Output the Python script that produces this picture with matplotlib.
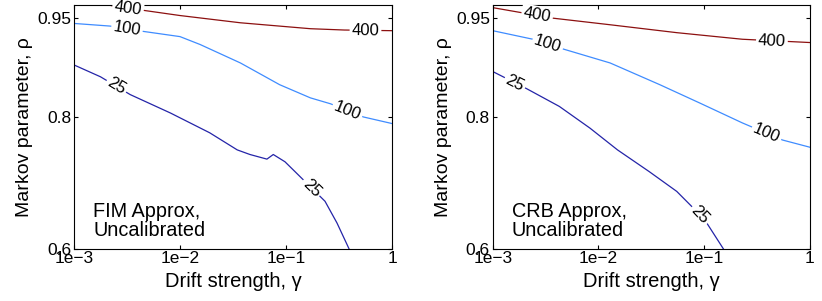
import numpy as np
import matplotlib
matplotlib.use("Agg")
import matplotlib.pyplot as plt
from matplotlib.ticker import FixedLocator, NullLocator

plt.rcParams['font.family'] = ['Liberation Sans', 'DejaVu Sans']

# contour lines: log10(gamma), rho
fim_400_lg = [-2.80, -2.62, -2.35, -2.0, -1.43, -0.77, -0.45, 0.0]
fim_400_rho = [0.975, 0.968, 0.962, 0.954, 0.943, 0.934, 0.932, 0.931]
fim_100_lg = [-3.0, -2.66, -2.35, -2.0, -1.81, -1.43, -1.06, -0.77, -0.58, -0.27, 0.0]
fim_100_rho = [0.942, 0.938, 0.930, 0.922, 0.910, 0.882, 0.849, 0.829, 0.820, 0.800, 0.790]
fim_25_lg = [-3.0, -2.75, -2.47, -2.09, -1.72, -1.46, -1.34, -1.18, -1.12, -1.01, -0.915, -0.632, -0.519, -0.406]
fim_25_rho = [0.879, 0.861, 0.834, 0.806, 0.776, 0.750, 0.743, 0.736, 0.743, 0.732, 0.717, 0.672, 0.639, 0.600]

crb_400_lg = [-3.0, -2.43, -1.89, -1.26, -0.64, 0.0]
crb_400_rho = [0.966, 0.950, 0.940, 0.928, 0.918, 0.913]
crb_100_lg = [-3.0, -2.62, -2.33, -1.89, -1.42, -1.04, -0.64, -0.26, 0.0]
crb_100_rho = [0.931, 0.918, 0.903, 0.882, 0.849, 0.821, 0.791, 0.765, 0.754]
crb_25_lg = [-3.0, -2.68, -2.37, -2.08, -1.82, -1.52, -1.26, -1.0, -0.82]
crb_25_rho = [0.869, 0.843, 0.816, 0.783, 0.750, 0.717, 0.687, 0.645, 0.600]

levels = [25, 100, 400]
level_colors = {25: '#2424a8', 100: '#3f8cff', 400: '#8c1010'}

# where the inline labels sit (log10 gamma)
fim_label_lg = {400: [-2.49, -0.25], 100: [-2.50, -0.42], 25: [-2.60, -0.76]}
crb_label_lg = {400: [-2.58, -0.36], 100: [-2.48, -0.41], 25: [-2.79, -1.04]}

fim_lines = {400: (fim_400_lg, fim_400_rho), 100: (fim_100_lg, fim_100_rho),
             25: (fim_25_lg, fim_25_rho)}
crb_lines = {400: (crb_400_lg, crb_400_rho), 100: (crb_100_lg, crb_100_rho),
             25: (crb_25_lg, crb_25_rho)}

xticks = [1e-3, 1e-2, 1e-1, 1]
xticklabels = ['1e\u22123', '1e\u22122', '1e\u22121', '1']
yticks = [0.6, 0.8, 0.95]
yticklabels = ['0.6', '0.8', '0.95']

fig = plt.figure(figsize=(8.22, 3.01), dpi=100)
ax1 = fig.add_axes([0.0900, 0.1738, 0.3869, 0.8096])
ax2 = fig.add_axes([0.5994, 0.1738, 0.3860, 0.8096])


def draw_panel(ax, lines, label_lg, title):
    ax.set_xscale('log')
    ax.set_xlim(1e-3, 1)
    ax.set_ylim(0.6, 0.97)
    for lev in levels:
        lg, rho = lines[lev]
        ax.plot(10 ** np.array(lg), rho, color=level_colors[lev], lw=0.9)
    ax.xaxis.set_major_locator(FixedLocator(xticks))
    ax.xaxis.set_minor_locator(NullLocator())
    ax.set_xticklabels(xticklabels)
    ax.set_yticks(yticks)
    ax.set_yticklabels(yticklabels)
    ax.tick_params(direction='in', length=3, width=0.8, top=True, right=True,
                   labelsize=12.5, pad=2)
    for s in ax.spines.values():
        s.set_linewidth(0.8)
    ax.set_xlabel('Drift strength, \u03b3', fontsize=14.5, labelpad=4)
    ax.set_ylabel('Markov parameter, \u03c1', fontsize=14, labelpad=3)
    ax.text(0.06, 0.112, title, transform=ax.transAxes, fontsize=14.3,
            va='center', ha='left', linespacing=1.0)

    # inline contour labels, rotated along the line
    for lev in levels:
        lg, rho = lines[lev]
        for xl in label_lg[lev]:
            yl = np.interp(xl, lg, rho)
            p0 = ax.transData.transform((10 ** (xl - 0.05), np.interp(xl - 0.05, lg, rho)))
            p1 = ax.transData.transform((10 ** (xl + 0.05), np.interp(xl + 0.05, lg, rho)))
            ang = np.degrees(np.arctan2(p1[1] - p0[1], p1[0] - p0[0]))
            ax.text(10 ** xl, yl, str(lev), fontsize=12, rotation=ang,
                    rotation_mode='anchor', ha='center', va='center',
                    bbox=dict(fc='white', ec='none', pad=1.5), zorder=3,
                    clip_on=False)


draw_panel(ax1, fim_lines, fim_label_lg, 'FIM Approx,\nUncalibrated')
draw_panel(ax2, crb_lines, crb_label_lg, 'CRB Approx,\nUncalibrated')

fig.savefig('out.png', dpi=100)
